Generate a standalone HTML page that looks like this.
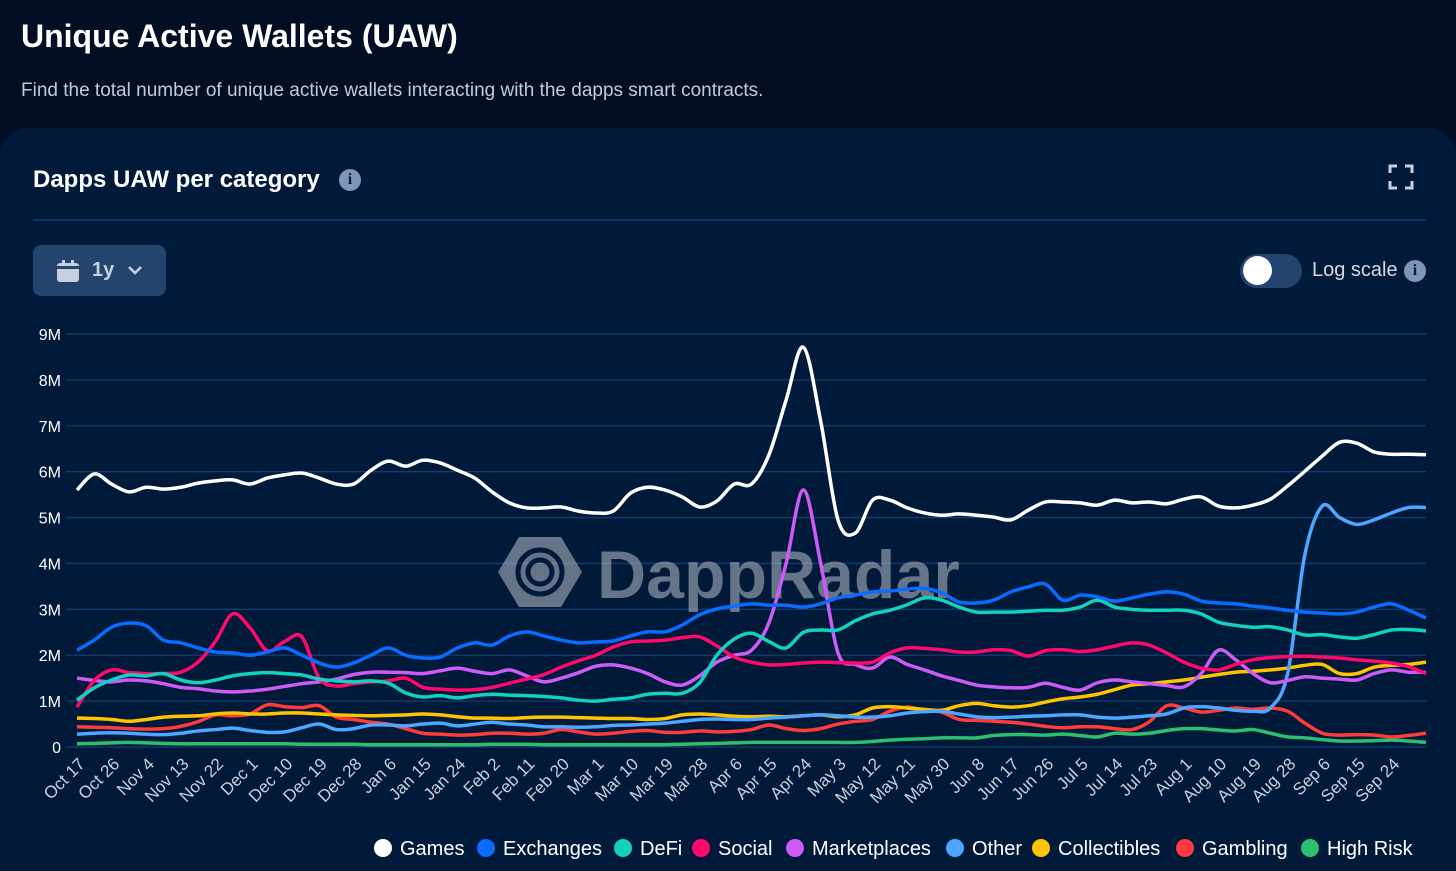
<!DOCTYPE html>
<html><head><meta charset="utf-8">
<style>
html,body{margin:0;padding:0;width:1456px;height:871px;overflow:hidden;}
body{background:#020e24;font-family:"Liberation Sans",sans-serif;position:relative;color:#fff;}
.abs{position:absolute;}
#title{left:21px;top:18px;font-size:32px;font-weight:bold;}
#sub{left:21px;top:80px;font-size:19px;color:#c3cad6;}
#card{left:0;top:128px;width:1456px;height:743px;background:#011a3a;border-radius:28px 28px 0 0;}
#ctitle{left:33px;top:166px;font-size:24px;font-weight:bold;}
.info{width:22px;height:22px;border-radius:50%;background:#7f96b8;color:#0a1a33;font-weight:bold;font-family:"Liberation Serif",serif;font-size:16px;text-align:center;line-height:22px;}
#sep{left:33px;top:219px;width:1393px;height:2px;background:#0e3566;}
#btn{left:33px;top:245px;width:133px;height:51px;background:#23446f;border-radius:8px;}
#toggle{left:1240px;top:254px;width:62px;height:34px;background:#23446f;border-radius:17px;}
#knob{left:1243px;top:256px;width:29px;height:29px;border-radius:50%;background:#fff;}
#logtxt{left:1312px;top:259px;font-size:20px;color:#d4dae4;}
.leg{position:absolute;top:838px;font-size:20px;color:#fff;white-space:nowrap;}
.dot{display:inline-block;width:18px;height:18px;border-radius:50%;vertical-align:-2px;margin-right:8px;}
</style></head>
<body>
<div id="title" class="abs">Unique Active Wallets (UAW)</div>
<div id="sub" class="abs">Find the total number of unique active wallets interacting with the dapps smart contracts.</div>
<div id="card" class="abs"></div>
<div id="ctitle" class="abs">Dapps UAW per category</div>
<div class="abs info" style="left:339px;top:169px;">i</div>
<svg class="abs" style="left:1388px;top:164px" width="26" height="26"><path d="M2 9V2h7M17 2h7v7M24 17v7h-7M9 24H2v-7" fill="none" stroke="#c8d0de" stroke-width="3"/></svg>
<div id="sep" class="abs"></div>
<div id="btn" class="abs">
  <svg class="abs" style="left:23px;top:14px" width="24" height="24"><rect x="1" y="4" width="22" height="19" rx="3" fill="#c8d0de"/><rect x="1" y="7" width="22" height="3" fill="#23446f"/><rect x="6" y="1" width="3" height="6" fill="#c8d0de"/><rect x="15" y="1" width="3" height="6" fill="#c8d0de"/></svg>
  <span class="abs" style="left:59px;top:14px;font-size:20px;font-weight:bold;color:#c8d0de">1y</span>
  <svg class="abs" style="left:94px;top:19px" width="16" height="12"><path d="M2 3l6 6 6-6" fill="none" stroke="#c8d0de" stroke-width="2.6"/></svg>
</div>
<div id="toggle" class="abs"></div>
<div id="knob" class="abs"></div>
<div id="logtxt" class="abs">Log scale</div>
<div class="abs info" style="left:1404px;top:260px;">i</div>

<svg id="chart" class="abs" style="left:0;top:0" width="1456" height="871"></svg>

<div class="leg" style="left:374px"><span class="dot" style="background:#ffffff"></span>Games</div>
<div class="leg" style="left:477px"><span class="dot" style="background:#0a6cff"></span>Exchanges</div>
<div class="leg" style="left:614px"><span class="dot" style="background:#12d1bf"></span>DeFi</div>
<div class="leg" style="left:692px"><span class="dot" style="background:#ff0a6c"></span>Social</div>
<div class="leg" style="left:786px"><span class="dot" style="background:#cc5cf5"></span>Marketplaces</div>
<div class="leg" style="left:946px"><span class="dot" style="background:#4da6ff"></span>Other</div>
<div class="leg" style="left:1032px"><span class="dot" style="background:#ffc300"></span>Collectibles</div>
<div class="leg" style="left:1176px"><span class="dot" style="background:#ff3b3b"></span>Gambling</div>
<div class="leg" style="left:1301px"><span class="dot" style="background:#2dbf6e"></span>High Risk</div>

<script>
const tickLabels = ["Oct 17","Oct 26","Nov 4","Nov 13","Nov 22","Dec 1","Dec 10","Dec 19","Dec 28","Jan 6","Jan 15","Jan 24","Feb 2","Feb 11","Feb 20","Mar 1","Mar 10","Mar 19","Mar 28","Apr 6","Apr 15","Apr 24","May 3","May 12","May 21","May 30","Jun 8","Jun 17","Jun 26","Jul 5","Jul 14","Jul 23","Aug 1","Aug 10","Aug 19","Aug 28","Sep 6","Sep 15","Sep 24"];
const yTicks = [0,1,2,3,4,5,6,7,8,9];
const yTickLabels = ["0","1M","2M","3M","4M","5M","6M","7M","8M","9M"];
// values in millions, sampled every 4.5 days starting Oct 17
const games = [5.60,5.95,5.73,5.56,5.66,5.62,5.66,5.75,5.80,5.82,
5.73,5.86,5.93,5.97,5.86,5.73,5.73,6.03,6.23,6.12,
6.25,6.19,6.03,5.86,5.56,5.32,5.21,5.21,5.23,5.14,
5.10,5.14,5.53,5.66,5.60,5.45,5.23,5.36,5.73,5.73,
6.36,7.56,8.71,7.10,4.95,4.66,5.38,5.38,5.21,5.10,
5.05,5.08,5.05,5.01,4.95,5.16,5.34,5.34,5.32,5.27,
5.38,5.32,5.34,5.30,5.40,5.45,5.25,5.21,5.27,5.40,
5.69,6.01,6.34,6.64,6.62,6.43,6.38,6.38,6.37];
const exchanges = [2.11,2.33,2.61,2.70,2.64,2.33,2.27,2.16,2.07,2.05,
2.00,2.07,2.16,2.00,1.83,1.74,1.83,2.00,2.16,2.00,
1.94,1.96,2.16,2.27,2.22,2.42,2.51,2.42,2.33,2.27,
2.29,2.31,2.42,2.51,2.51,2.66,2.88,3.01,3.07,3.12,
3.09,3.09,3.05,3.12,3.25,3.31,3.38,3.40,3.44,3.46,
3.36,3.16,3.14,3.20,3.38,3.49,3.55,3.20,3.31,3.27,
3.18,3.25,3.33,3.38,3.33,3.18,3.14,3.12,3.07,3.03,
2.98,2.94,2.92,2.90,2.94,3.05,3.12,2.98,2.81];
const defi = [1.02,1.29,1.46,1.57,1.55,1.60,1.46,1.40,1.46,1.55,
1.60,1.62,1.60,1.57,1.48,1.44,1.42,1.44,1.39,1.18,
1.09,1.12,1.07,1.12,1.15,1.13,1.12,1.10,1.07,1.02,
1.00,1.04,1.07,1.15,1.17,1.17,1.40,2.00,2.35,2.48,
2.30,2.16,2.50,2.55,2.55,2.75,2.90,2.98,3.10,3.25,
3.20,3.05,2.94,2.94,2.94,2.96,2.98,2.98,3.05,3.20,
3.05,3.00,2.98,2.98,2.98,2.90,2.72,2.65,2.61,2.62,
2.55,2.44,2.45,2.40,2.37,2.45,2.55,2.56,2.53];
const social = [0.87,1.45,1.68,1.62,1.60,1.60,1.63,1.85,2.30,2.90,
2.60,2.10,2.30,2.40,1.50,1.33,1.38,1.42,1.44,1.50,
1.30,1.26,1.24,1.25,1.30,1.39,1.48,1.58,1.74,1.88,
2.00,2.18,2.29,2.31,2.33,2.38,2.40,2.20,1.96,1.85,
1.79,1.80,1.83,1.85,1.84,1.83,1.85,2.05,2.16,2.15,
2.12,2.07,2.07,2.12,2.10,1.98,2.10,2.12,2.08,2.12,
2.20,2.27,2.22,2.05,1.85,1.72,1.68,1.80,1.90,1.95,
1.97,1.98,1.96,1.94,1.90,1.87,1.83,1.75,1.60];
const marketplaces = [1.50,1.45,1.42,1.46,1.44,1.38,1.30,1.27,1.22,1.20,
1.22,1.26,1.32,1.38,1.42,1.48,1.58,1.63,1.63,1.62,
1.60,1.66,1.72,1.65,1.60,1.68,1.55,1.42,1.50,1.62,
1.76,1.79,1.72,1.60,1.42,1.35,1.55,1.85,2.00,2.11,
2.70,4.00,5.60,4.00,2.05,1.80,1.72,1.96,1.80,1.68,
1.55,1.45,1.35,1.31,1.29,1.30,1.39,1.30,1.24,1.40,
1.46,1.42,1.38,1.34,1.31,1.60,2.11,1.90,1.60,1.40,
1.45,1.53,1.50,1.48,1.46,1.60,1.68,1.63,1.63];
const other = [0.28,0.30,0.31,0.30,0.28,0.27,0.30,0.35,0.38,0.41,
0.36,0.32,0.33,0.42,0.50,0.38,0.40,0.48,0.48,0.46,
0.50,0.52,0.46,0.50,0.54,0.50,0.48,0.44,0.44,0.43,
0.44,0.47,0.48,0.50,0.52,0.56,0.60,0.61,0.60,0.60,
0.63,0.65,0.68,0.70,0.68,0.65,0.65,0.68,0.74,0.77,
0.78,0.72,0.66,0.64,0.65,0.67,0.68,0.70,0.70,0.65,
0.63,0.65,0.68,0.72,0.85,0.88,0.85,0.80,0.78,0.85,
1.60,4.20,5.25,5.00,4.85,4.95,5.10,5.22,5.22];
const collectibles = [0.63,0.62,0.60,0.56,0.60,0.65,0.67,0.68,0.72,0.74,
0.72,0.72,0.74,0.74,0.72,0.70,0.69,0.68,0.69,0.70,
0.72,0.70,0.66,0.63,0.63,0.62,0.64,0.65,0.65,0.64,
0.63,0.62,0.62,0.60,0.62,0.70,0.72,0.70,0.67,0.66,
0.67,0.66,0.68,0.70,0.66,0.70,0.85,0.88,0.85,0.82,
0.80,0.90,0.95,0.90,0.87,0.90,0.98,1.05,1.09,1.15,
1.25,1.35,1.38,1.42,1.46,1.52,1.58,1.63,1.65,1.68,
1.72,1.78,1.80,1.60,1.60,1.74,1.78,1.80,1.85];
const gambling = [0.44,0.43,0.42,0.40,0.39,0.40,0.45,0.55,0.70,0.68,
0.72,0.92,0.88,0.86,0.90,0.65,0.60,0.54,0.50,0.40,
0.30,0.28,0.26,0.27,0.30,0.30,0.28,0.30,0.38,0.33,
0.28,0.30,0.34,0.36,0.32,0.32,0.35,0.33,0.34,0.38,
0.48,0.40,0.36,0.40,0.50,0.56,0.60,0.78,0.87,0.80,
0.76,0.60,0.58,0.56,0.54,0.50,0.45,0.42,0.44,0.44,
0.40,0.38,0.55,0.90,0.85,0.76,0.80,0.85,0.82,0.85,
0.78,0.52,0.30,0.26,0.27,0.26,0.22,0.25,0.30];
const highRisk = [0.07,0.08,0.09,0.10,0.09,0.08,0.07,0.07,0.07,0.07,
0.07,0.07,0.07,0.06,0.06,0.06,0.06,0.05,0.05,0.05,
0.05,0.05,0.05,0.05,0.06,0.06,0.06,0.05,0.05,0.05,
0.05,0.05,0.05,0.05,0.05,0.06,0.07,0.08,0.09,0.10,
0.10,0.10,0.10,0.10,0.10,0.10,0.12,0.15,0.17,0.18,
0.20,0.20,0.20,0.25,0.27,0.27,0.26,0.28,0.25,0.22,
0.30,0.28,0.30,0.36,0.40,0.40,0.37,0.35,0.38,0.30,
0.22,0.20,0.16,0.13,0.13,0.14,0.15,0.13,0.10];

const NS = "http://www.w3.org/2000/svg";
const svg = document.getElementById('chart');
const X0 = 77, X1 = 1426, Y0 = 747, YTOP = 334, YMAX = 9;
const daysPerTick = 9, daysPerPoint = 4.5;
const totalDays = (games.length - 1) * daysPerPoint;
function xDay(d){ return X0 + d / totalDays * (X1 - X0); }
function yVal(v){ return Y0 - v / YMAX * (Y0 - YTOP); }

yTicks.forEach((t, i) => {
  const ln = document.createElementNS(NS, 'line');
  ln.setAttribute('x1', 66); ln.setAttribute('x2', X1);
  ln.setAttribute('y1', yVal(t)); ln.setAttribute('y2', yVal(t));
  ln.setAttribute('stroke', '#143d6e'); ln.setAttribute('stroke-width', 1.3);
  
  
  svg.appendChild(ln);
  const tx = document.createElementNS(NS, 'text');
  tx.setAttribute('x', 61); tx.setAttribute('y', yVal(t) + 6);
  tx.setAttribute('text-anchor', 'end'); tx.setAttribute('fill', '#ffffff');
  tx.setAttribute('font-size', '16'); tx.setAttribute('font-family', 'Liberation Sans, sans-serif');
  tx.textContent = yTickLabels[i];
  
  
  svg.appendChild(tx);
});
tickLabels.forEach((lab, i) => {
  const x = xDay(i * daysPerTick);
  const tx = document.createElementNS(NS, 'text');
  tx.setAttribute('transform', `translate(${x + 9},${765}) rotate(-45)`);
  tx.setAttribute('text-anchor', 'end'); tx.setAttribute('fill', '#c8d0de');
  tx.setAttribute('font-size', '17'); tx.setAttribute('font-family', 'Liberation Sans, sans-serif');
  tx.textContent = lab;
  
  
  svg.appendChild(tx);
});
const wm = document.createElementNS(NS, 'g');
wm.setAttribute('opacity', '0.6');
wm.innerHTML = '<polygon points="519,537 561,537 582,572 561,607 519,607 498,572" fill="#a9b1bc"/>' +
 '<circle cx="540" cy="572" r="22" fill="none" stroke="#021a3a" stroke-width="5"/>' +
 '<circle cx="540" cy="572" r="12" fill="none" stroke="#021a3a" stroke-width="5"/>' +
 '<text x="597" y="598" font-size="68" font-weight="bold" fill="#a9b1bc" font-family="Liberation Sans, sans-serif">DappRadar</text>';


svg.appendChild(wm);

function pathFor(vals){
  const pts = vals.map((v, i) => [xDay(i * daysPerPoint), yVal(v)]);
  let d = `M${pts[0][0]},${pts[0][1]}`;
  for (let i = 0; i < pts.length - 1; i++) {
    const p0 = pts[Math.max(0, i - 1)], p1 = pts[i], p2 = pts[i + 1], p3 = pts[Math.min(pts.length - 1, i + 2)];
    const c1 = [p1[0] + (p2[0] - p0[0]) / 6, p1[1] + (p2[1] - p0[1]) / 6];
    const c2 = [p2[0] - (p3[0] - p1[0]) / 6, p2[1] - (p3[1] - p1[1]) / 6];
    d += ` C${c1[0]},${c1[1]} ${c2[0]},${c2[1]} ${p2[0]},${p2[1]}`;
  }
  return d;
}
const seriesList = [
  ['high-risk', highRisk, '#2dbf6e'],
  ['gambling', gambling, '#ff3b3b'],
  ['collectibles', collectibles, '#ffc300'],
  ['other', other, '#4da6ff'],
  ['marketplaces', marketplaces, '#cc5cf5'],
  ['social', social, '#ff0a6c'],
  ['defi', defi, '#12d1bf'],
  ['exchanges', exchanges, '#0a6cff'],
  ['games', games, '#ffffff']
];
seriesList.forEach(([name, vals, col]) => {
  const p = document.createElementNS(NS, 'path');
  p.setAttribute('d', pathFor(vals));
  p.setAttribute('fill', 'none'); p.setAttribute('stroke', col);
  p.setAttribute('stroke-width', '3.5'); p.setAttribute('stroke-linejoin', 'round');
  
  
  svg.appendChild(p);
});
</script>
</body></html>
